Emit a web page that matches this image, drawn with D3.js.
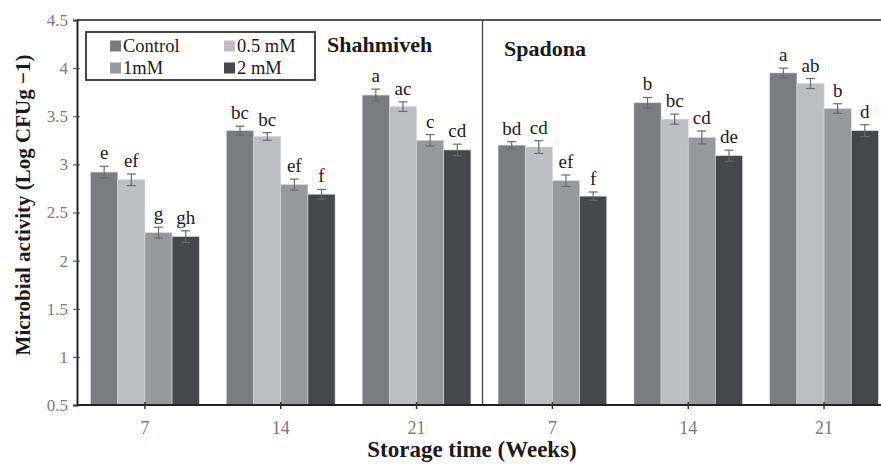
<!DOCTYPE html>
<html>
<head>
<meta charset="utf-8">
<script src="https://cdn.jsdelivr.net/npm/d3@7"></script>
<style>
	body { margin: 0; background: #fff; }
	svg { display: block; }
	text { font-family: "Liberation Serif", "Times New Roman", serif; }
</style>
</head>
<body>
<script>
// storage weeks, Shahmiveh first then Spadona
var weeks = ["7", "14", "21", "7", "14", "21"];
var cultivars = ["Shahmiveh", "Spadona"];
var treatments = ["Control", "0.5 mM", "1mM", "2 mM"];
var colors = ["#7b7c80", "#bdbec2", "#98999d", "#46474a"];

var control = [2.92, 3.35, 3.72, 3.20, 3.64, 3.95];
var mM05 = [2.84, 3.29, 3.60, 3.18, 3.47, 3.84];
var mM1 = [2.29, 2.79, 3.25, 2.83, 3.28, 3.58];
var mM2 = [2.25, 2.69, 3.15, 2.67, 3.09, 3.35];

var errControl = [0.06, 0.047, 0.062, 0.036, 0.055, 0.05];
var err05 = [0.06, 0.04, 0.05, 0.066, 0.052, 0.052];
var err1 = [0.057, 0.057, 0.06, 0.06, 0.067, 0.05];
var err2 = [0.06, 0.05, 0.06, 0.043, 0.057, 0.062];

var lettersControl = ["e", "bc", "a", "bd", "b", "a"];
var letters05 = ["ef", "bc", "ac", "cd", "bc", "ab"];
var letters1 = ["g", "ef", "c", "ef", "cd", "b"];
var letters2 = ["gh", "f", "cd", "f", "de", "d"];

var yTicks = [0.5, 1, 1.5, 2, 2.5, 3, 3.5, 4, 4.5];

var values = [control, mM05, mM1, mM2];
var errs = [errControl, err05, err1, err2];
var letters = [lettersControl, letters05, letters1, letters2];

var width = 881, height = 466;
var mLeft = 77, mTop = 20, mBottom = 405;

var svg = d3.select("body").append("svg")
	.attr("width", width)
	.attr("height", height);

var x = d3.scaleBand()
	.domain(d3.range(weeks.length))
	.range([mLeft, 892])
	.paddingInner(0.2)
	.paddingOuter(0.1);

var xs = d3.scaleBand()
	.domain(d3.range(treatments.length))
	.range([0, x.bandwidth()]);

var y = d3.scaleLinear()
	.domain([0.5, 4.5])
	.range([mBottom, mTop]);

// flatten into one record per bar
var bars = [];
weeks.forEach(function(w, i) {
	treatments.forEach(function(t, j) {
		bars.push({ g: i, s: j, v: values[j][i], e: errs[j][i], l: letters[j][i] });
	});
});

// top frame line
svg.append("line")
	.attr("x1", mLeft).attr("x2", width)
	.attr("y1", y(4.5)).attr("y2", y(4.5))
	.attr("stroke", "#555").attr("stroke-width", 2);

// separator between cultivars
var sepX = (x(2) + x.bandwidth() + x(3)) / 2 - 2;
svg.append("line")
	.attr("x1", sepX).attr("x2", sepX)
	.attr("y1", y(4.5)).attr("y2", y(0.5))
	.attr("stroke", "#444").attr("stroke-width", 1.3);

// bars
svg.append("g").selectAll("rect")
	.data(bars)
	.enter().append("rect")
	.attr("x", function(d) { return x(d.g) + xs(d.s); })
	.attr("y", function(d) { return y(d.v); })
	.attr("width", xs.bandwidth())
	.attr("height", function(d) { return y(0.5) - y(d.v); })
	.attr("fill", function(d) { return colors[d.s]; })
	.attr("stroke", "#d8d8da")
	.attr("stroke-width", 0.6);

// error bars
var eb = svg.append("g")
	.attr("stroke", "#6a6a6a")
	.attr("stroke-width", 1.2);

bars.forEach(function(d) {
	var cx = x(d.g) + xs(d.s) + xs.bandwidth() / 2;
	eb.append("line")
		.attr("x1", cx).attr("x2", cx)
		.attr("y1", y(d.v + d.e)).attr("y2", y(d.v - d.e));
	[d.v + d.e, d.v - d.e].forEach(function(v) {
		eb.append("line")
			.attr("x1", cx - 4.5).attr("x2", cx + 4.5)
			.attr("y1", y(v)).attr("y2", y(v));
	});
});

// significance letters
svg.append("g").selectAll("text")
	.data(bars)
	.enter().append("text")
	.attr("x", function(d) { return x(d.g) + xs(d.s) + xs.bandwidth() / 2; })
	.attr("y", function(d) { return y(d.v + d.e) - 7; })
	.attr("text-anchor", "middle")
	.style("font-size", "19px")
	.style("fill", "#1a1a1a")
	.text(function(d) { return d.l; });

// y axis
var yAxis = svg.append("g")
	.attr("transform", "translate(" + mLeft + ",0)")
	.call(d3.axisLeft(y).tickValues(yTicks).tickSize(4).tickPadding(5)
		.tickFormat(function(d) { return d; }));
yAxis.select(".domain").attr("stroke", "#222").attr("stroke-width", 2);
yAxis.selectAll(".tick line").attr("stroke", "#444").attr("x1", 3);
yAxis.selectAll("text")
	.style("font-family", "Liberation Serif, serif")
	.style("font-size", "17px")
	.style("fill", "#7a7a7a");

// x axis
var xAxis = svg.append("g")
	.attr("transform", "translate(0," + mBottom + ")")
	.call(d3.axisBottom(x).tickSize(4).tickPadding(12)
		.tickFormat(function(i) { return weeks[i]; }));
xAxis.select(".domain").attr("stroke", "#222").attr("stroke-width", 2)
	.attr("d", "M" + mLeft + ",0H" + width);
xAxis.selectAll(".tick line").attr("stroke", "#333").attr("stroke-width", 1.5).attr("y1", -3);
xAxis.selectAll("text")
	.style("font-family", "Liberation Serif, serif")
	.style("font-size", "18px")
	.style("fill", "#7a7a7a");

// axis titles
svg.append("text")
	.attr("x", 472)
	.attr("y", 457)
	.attr("text-anchor", "middle")
	.style("font-size", "23px")
	.style("font-weight", "bold")
	.style("fill", "#1a1a1a")
	.text("Storage time (Weeks)");

svg.append("text")
	.attr("transform", "translate(30,205) rotate(-90)")
	.attr("text-anchor", "middle")
	.style("font-size", "21px")
	.style("font-weight", "bold")
	.style("fill", "#1a1a1a")
	.text("Microbial activity (Log CFUg \u22121)");

// cultivar labels
svg.append("text")
	.attr("x", 327).attr("y", 52)
	.style("font-size", "22px").style("font-weight", "bold")
	.style("fill", "#1a1a1a")
	.text(cultivars[0]);
svg.append("text")
	.attr("x", 504).attr("y", 56)
	.style("font-size", "22px").style("font-weight", "bold")
	.style("fill", "#1a1a1a")
	.text(cultivars[1]);

// legend
var legend = svg.append("g");
legend.append("rect")
	.attr("x", 86).attr("y", 32)
	.attr("width", 229).attr("height", 48)
	.attr("fill", "#fff")
	.attr("stroke", "#333").attr("stroke-width", 1.8);

var item = legend.selectAll(".item")
	.data(treatments)
	.enter().append("g")
	.attr("class", "item")
	.attr("transform", function(d, i) {
		return "translate(" + (i % 2 === 0 ? 110 : 224) + "," + (i < 2 ? 46 : 68) + ")";
	});
item.append("rect")
	.attr("x", 0).attr("y", -5.5)
	.attr("width", 11).attr("height", 11)
	.attr("fill", function(d, i) { return colors[i]; });
item.append("text")
	.attr("x", 13).attr("y", 5.5)
	.style("font-size", "18.5px")
	.style("fill", "#1a1a1a")
	.text(function(d) { return d; });
</script>
</body>
</html>
